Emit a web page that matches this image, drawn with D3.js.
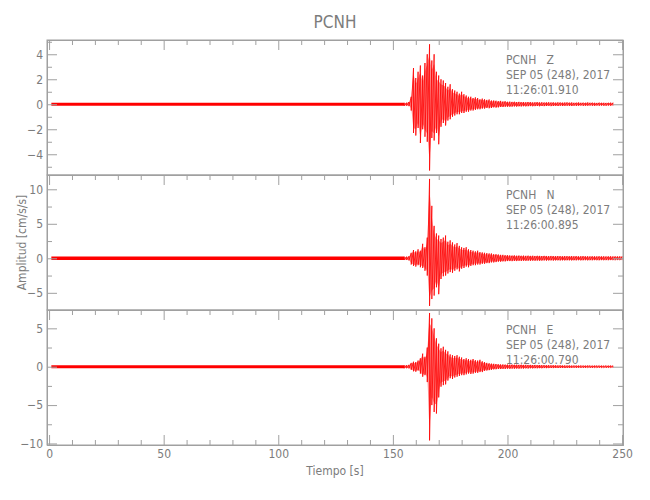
<!DOCTYPE html>
<html>
<head>
<meta charset="utf-8">
<script src="https://cdn.jsdelivr.net/npm/d3@7"></script>
<style>
  html, body { margin: 0; padding: 0; background: #fff; }
  svg text { font-family: "Liberation Sans Narrow", "DejaVu Sans Condensed", "Liberation Sans", sans-serif; fill: #7c7c7c; }
</style>
</head>
<body>
<svg id="chart" width="650" height="500"></svg>
<script>
// ---------------- data ----------------
const station = "PCNH";
const channels = ["Z", "N", "E"];
const dateLabel = "SEP 05 (248), 2017";
const startTimes = ["11:26:01.910", "11:26:00.895", "11:26:00.790"];
const xLabel = "Tiempo [s]";
const yLabel = "Amplitud [cm/s/s]";

const xRange = [-0.9, 250.4];
const xMajorTicks = [0, 50, 100, 150, 200, 250];
const xMinorTicks = [10, 20, 30, 40, 60, 70, 80, 90, 110, 120, 130, 140, 160, 170, 180, 190, 210, 220, 230, 240];

const yRangeZ = [-5.66, 5.14];
const yRangeN = [-7.49, 12.07];
const yRangeE = [-10.2, 7.39];
const yMajorZ = [-4, -2, 0, 2, 4];
const yMinorZ = [-5, -3, -1, 1, 3, 5];
const yMajorN = [-5, 0, 5, 10];
const yMinorN = [-2.5, 2.5, 7.5];
const yMajorE = [-10, -5, 0, 5];
const yMinorE = [-7.5, -2.5, 2.5];

// pre-event noise band (seconds, amplitude)
const noiseStart = [1, 1, 1];
const noiseEnd = [155, 155, 155];
const noiseAmp = [0.12, 0.25, 0.2];

// event section: one max / min pair per second, starting at t = 155 s
const eventStart = 155;
const zMax = [0.12,0.13,0.18,0.6,2.9,2.1,2.6,3.1,2.3,3.3,4.0,4.8,3.5,4.0,2.6,2.3,2.0,1.9,1.7,1.4,1.6,1.2,1.1,1.0,0.85,1.0,0.8,0.7,0.6,0.6,0.5,0.55,0.5,0.4,0.45,0.4,0.35,0.38,0.3,0.3,0.28,0.25,0.27,0.22,0.24,0.2,
  0.21,0.19,0.2,0.18,0.19,0.17,0.18,0.16,0.18,0.17,0.15,0.16,0.17,0.15,0.16,0.14,0.15,0.16,0.14,0.15,0.13,0.15,0.14,0.13,0.14,0.15,0.13,0.14,0.12,0.13,0.14,0.12,0.13,0.12,0.14,0.12,0.13,0.12,0.11,0.13,0.12,0.12,0.11,0.12,0.13,0.12];
const zMin = [-0.12,-0.12,-0.15,-0.5,-2.3,-2.5,-1.9,-3.1,-2.0,-2.6,-3.0,-5.3,-2.7,-2.9,-2.3,-3.2,-1.8,-1.5,-1.7,-1.3,-1.2,-1.0,-0.9,-0.8,-0.8,-0.7,-0.7,-0.6,-0.6,-0.5,-0.5,-0.45,-0.4,-0.4,-0.35,-0.35,-0.3,-0.32,-0.3,-0.25,-0.27,-0.25,-0.22,-0.22,-0.2,-0.2,
  -0.2,-0.19,-0.18,-0.19,-0.17,-0.18,-0.16,-0.17,-0.16,-0.15,-0.16,-0.15,-0.14,-0.16,-0.14,-0.15,-0.14,-0.13,-0.15,-0.14,-0.13,-0.14,-0.12,-0.14,-0.13,-0.12,-0.13,-0.14,-0.12,-0.13,-0.12,-0.11,-0.13,-0.12,-0.12,-0.11,-0.12,-0.13,-0.11,-0.12,-0.11,-0.12,-0.12,-0.11,-0.12,-0.11];

const nMax = [0.25,0.25,0.3,0.8,1.2,1.0,1.3,1.1,2.1,1.6,3.0,11.5,7.6,4.7,3.6,3.3,2.8,3.0,3.3,2.4,2.6,2.3,2.0,2.2,1.8,1.6,1.5,1.6,1.3,1.2,1.1,1.0,1.1,0.9,0.85,0.8,0.75,0.7,0.7,0.6,0.6,0.55,0.5,0.5,0.45,0.45,
  0.42,0.4,0.43,0.38,0.4,0.37,0.39,0.36,0.38,0.35,0.37,0.34,0.36,0.35,0.33,0.35,0.34,0.32,0.34,0.33,0.31,0.33,0.32,0.3,0.32,0.31,0.3,0.32,0.3,0.31,0.29,0.3,0.31,0.29,0.3,0.28,0.3,0.29,0.28,0.3,0.28,0.29,0.27,0.28,0.29,0.27,0.28,0.27,0.28,0.27];
const nMin = [-0.25,-0.25,-0.3,-0.9,-1.1,-1.2,-1.0,-1.3,-1.4,-1.8,-2.5,-6.9,-5.9,-5.4,-4.2,-5.2,-3.0,-2.6,-2.5,-2.2,-2.0,-2.1,-1.8,-1.6,-1.9,-1.5,-1.4,-1.2,-1.3,-1.1,-1.0,-1.0,-0.9,-0.9,-0.8,-0.8,-0.7,-0.7,-0.6,-0.6,-0.55,-0.5,-0.5,-0.45,-0.45,-0.4,
  -0.4,-0.41,-0.38,-0.4,-0.37,-0.38,-0.36,-0.37,-0.35,-0.36,-0.34,-0.35,-0.33,-0.35,-0.33,-0.32,-0.34,-0.32,-0.31,-0.33,-0.31,-0.3,-0.32,-0.3,-0.31,-0.29,-0.3,-0.31,-0.29,-0.3,-0.28,-0.3,-0.29,-0.28,-0.3,-0.28,-0.29,-0.27,-0.28,-0.29,-0.27,-0.28,-0.27,-0.28,-0.26,-0.27,-0.28,-0.26,-0.27,-0.26];

const eMax = [0.2,0.2,0.25,0.5,0.65,0.6,0.8,1.1,1.7,1.3,2.5,7.0,6.3,5.0,3.7,3.0,2.4,2.6,2.2,2.0,1.6,1.5,1.4,1.5,1.3,1.2,1.0,1.1,1.0,0.9,1.0,0.85,0.8,0.9,0.7,0.6,0.5,0.45,0.4,0.38,0.35,0.32,0.3,0.3,0.28,0.28,
  0.27,0.28,0.26,0.27,0.25,0.26,0.24,0.25,0.23,0.24,0.22,0.23,0.21,0.22,0.2,0.21,0.19,0.2,0.18,0.19,0.18,0.17,0.18,0.16,0.17,0.16,0.17,0.15,0.16,0.16,0.15,0.16,0.15,0.14,0.16,0.15,0.14,0.15,0.14,0.15,0.14,0.13,0.15,0.14,0.14,0.13];
const eMin = [-0.2,-0.2,-0.22,-0.4,-0.6,-0.65,-0.5,-0.9,-1.3,-1.1,-2.0,-9.6,-5.0,-5.9,-6.1,-4.0,-2.6,-2.4,-2.3,-1.8,-1.5,-1.6,-1.4,-1.3,-1.2,-1.1,-1.1,-1.0,-0.9,-0.95,-0.9,-0.8,-0.8,-0.7,-0.7,-0.55,-0.5,-0.45,-0.4,-0.35,-0.33,-0.3,-0.3,-0.28,-0.28,-0.26,
  -0.27,-0.25,-0.26,-0.24,-0.25,-0.23,-0.24,-0.22,-0.23,-0.21,-0.22,-0.2,-0.21,-0.19,-0.2,-0.18,-0.19,-0.18,-0.17,-0.18,-0.16,-0.17,-0.16,-0.15,-0.17,-0.15,-0.16,-0.15,-0.14,-0.16,-0.14,-0.15,-0.14,-0.15,-0.13,-0.14,-0.15,-0.13,-0.14,-0.13,-0.14,-0.13,-0.14,-0.13,-0.12,-0.13];

// ---------------- layout ----------------
const frame = { left: 47, right: 623, top: 40, bottom: 445 };
const axisColor = "#a0a0a0";
const textColor = "#7c7c7c";
const traceColor = "#ff0000";

const svg = d3.select("#chart");
const x = d3.scaleLinear().domain(xRange).range([frame.left, frame.right]);

const panelH = (frame.bottom - frame.top) / 3;
const panels = [
  { range: yRangeZ, major: yMajorZ, minor: yMinorZ, max: zMax, min: zMin },
  { range: yRangeN, major: yMajorN, minor: yMinorN, max: nMax, min: nMin },
  { range: yRangeE, major: yMajorE, minor: yMinorE, max: eMax, min: eMin }
];

const fmt = d => (d < 0 ? "\u2212" + Math.abs(d) : String(d));

function styleAxis(g) {
  g.selectAll("path.domain").attr("stroke", axisColor).attr("stroke-width", 1);
  g.selectAll(".tick line").attr("stroke", axisColor).attr("stroke-width", 1);
  g.selectAll(".tick text").attr("fill", textColor).style("font-size", "12px")
    .style("font-family", '"Liberation Sans Narrow", "DejaVu Sans Condensed", "Liberation Sans", sans-serif');
}

panels.forEach((p, i) => {
  const top = frame.top + i * panelH;
  const bot = top + panelH;
  const y = d3.scaleLinear().domain(p.range).range([bot, top]);
  const g = svg.append("g");

  // noise band before the event
  const noise = d3.area()
    .x(d => x(d))
    .y0(() => y(-noiseAmp[i]))
    .y1(() => y(noiseAmp[i]));
  g.append("path")
    .datum([noiseStart[i], noiseEnd[i]])
    .attr("d", noise)
    .attr("fill", traceColor);

  // event envelope (light fill)
  const env = p.max.map((v, k) => ({ t: eventStart + k, hi: v, lo: p.min[k] }));
  g.append("path")
    .datum(env)
    .attr("d", d3.area().x(d => x(d.t)).y0(d => y(d.lo * 0.8)).y1(d => y(d.hi * 0.8)).curve(d3.curveMonotoneX))
    .attr("fill", traceColor)
    .attr("fill-opacity", 0.45);

  // event trace: alternating max / min per second
  const pts = [];
  env.forEach(d => { pts.push([d.t, d.hi]); pts.push([d.t, d.lo]); });
  g.append("path")
    .datum(pts)
    .attr("d", d3.line().x(d => x(d[0])).y(d => y(d[1])))
    .attr("fill", "none")
    .attr("stroke", traceColor)
    .attr("stroke-width", 0.8)
    .attr("stroke-linejoin", "round");

  // frame
  g.append("rect")
    .attr("x", frame.left).attr("y", top)
    .attr("width", frame.right - frame.left).attr("height", panelH)
    .attr("fill", "none").attr("stroke", axisColor);

  // left axis
  g.append("g").attr("transform", `translate(${frame.left},0)`)
    .call(d3.axisLeft(y).tickValues(p.major).tickSize(-10).tickSizeOuter(0).tickPadding(4).tickFormat(fmt))
    .call(styleAxis);
  g.append("g").attr("transform", `translate(${frame.left},0)`)
    .call(d3.axisLeft(y).tickValues(p.minor).tickSize(-5).tickSizeOuter(0).tickFormat(""))
    .call(styleAxis);
  // right axis
  g.append("g").attr("transform", `translate(${frame.right},0)`)
    .call(d3.axisRight(y).tickValues(p.major).tickSize(-10).tickSizeOuter(0).tickFormat(""))
    .call(styleAxis);
  g.append("g").attr("transform", `translate(${frame.right},0)`)
    .call(d3.axisRight(y).tickValues(p.minor).tickSize(-5).tickSizeOuter(0).tickFormat(""))
    .call(styleAxis);
  // top axis of each panel (ticks pointing down)
  g.append("g").attr("transform", `translate(0,${top})`)
    .call(d3.axisTop(x).tickValues(xMajorTicks).tickSize(-10).tickSizeOuter(0).tickFormat(""))
    .call(styleAxis);
  g.append("g").attr("transform", `translate(0,${top})`)
    .call(d3.axisTop(x).tickValues(xMinorTicks).tickSize(-5).tickSizeOuter(0).tickFormat(""))
    .call(styleAxis);

  if (i === 2) {
    g.append("g").attr("transform", `translate(0,${bot})`)
      .call(d3.axisBottom(x).tickValues(xMajorTicks).tickSize(-10).tickSizeOuter(0).tickPadding(4).tickFormat(d3.format("d")))
      .call(styleAxis);
    g.append("g").attr("transform", `translate(0,${bot})`)
      .call(d3.axisBottom(x).tickValues(xMinorTicks).tickSize(-5).tickSizeOuter(0).tickFormat(""))
      .call(styleAxis);
  }

  // channel annotation
  const ann = g.append("g").attr("transform", `translate(506,${top})`);
  ann.append("text").attr("y", 24).style("font-size", "12px").style("white-space", "pre")
    .text(station + "   " + channels[i]);
  ann.append("text").attr("y", 39).style("font-size", "12px").text(dateLabel);
  ann.append("text").attr("y", 54).style("font-size", "12px").text(startTimes[i]);
});

// title
svg.append("text")
  .attr("x", (frame.left + frame.right) / 2).attr("y", 28)
  .attr("text-anchor", "middle").style("font-size", "17px")
  .text(station);

// axis titles
svg.append("text")
  .attr("x", (frame.left + frame.right) / 2).attr("y", 475)
  .attr("text-anchor", "middle").style("font-size", "12px").style("white-space", "pre")
  .text(xLabel);
svg.append("text")
  .attr("transform", `translate(26,${(frame.top + frame.bottom) / 2}) rotate(-90)`)
  .attr("text-anchor", "middle").style("font-size", "12px").style("white-space", "pre")
  .text(yLabel);
</script>
</body>
</html>
